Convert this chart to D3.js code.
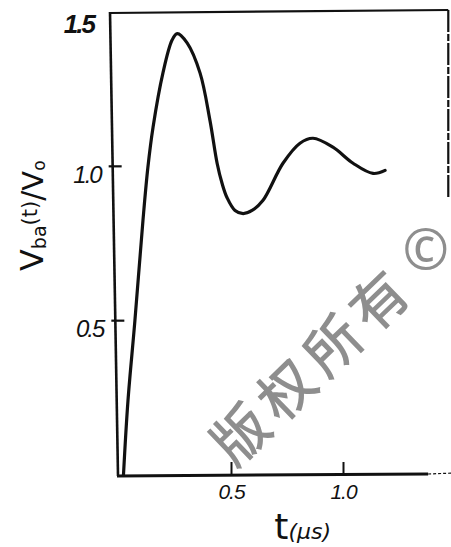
<!DOCTYPE html>
<html>
<head>
<meta charset="utf-8">
<script src="https://cdn.jsdelivr.net/npm/d3@7/dist/d3.min.js"></script>
<style>
  html, body { margin: 0; padding: 0; background: #fff; }
  svg { display: block; }
</style>
</head>
<body>
<script>
// Step response of the normalised voltage V_ba(t)/V_0 against time (µs)
const timeUs = [0.02, 0.04, 0.071, 0.107, 0.129, 0.152, 0.196, 0.237, 0.26, 0.304, 0.362, 0.406,
                0.438, 0.46, 0.482, 0.518, 0.554, 0.594, 0.643, 0.732, 0.808, 0.866, 0.955,
                1.045, 1.134, 1.188];
const voltageRatio = [0.0, 0.24, 0.5, 0.825, 0.997, 1.127, 1.302, 1.409, 1.43, 1.40, 1.302, 1.149,
                      1.01, 0.945, 0.899, 0.857, 0.847, 0.857, 0.89, 1.01, 1.075, 1.091, 1.062,
                      1.01, 0.977, 0.987];

const yTickValues = [0.5, 1.0, 1.5];
const yTickLabels = ["0.5", "1.0", "1.5"];
const xTickValues = [0.5, 1.0];
const xTickLabels = ["0.5", "1.0"];

const watermarkChars = ["版", "权", "所", "有"];
const watermarkMark = "©";

const W = 451, H = 547;
const svg = d3.select("body").append("svg").attr("width", W).attr("height", H);

const x = d3.scaleLinear().domain([0, 1.5]).range([119, 455]);
const y = d3.scaleLinear().domain([0, 1.5]).range([475, 12]);

// the hand-drawn vertical axis leans slightly to the left towards the top
const slant = v => x(0) - 1 - (v / 1.5) * 8;

const ink = "#111";

// frame: top edge and broken right edge
svg.append("line")
  .attr("x1", slant(1.5)).attr("y1", y(1.5) + 1)
  .attr("x2", x(1.47)).attr("y2", y(1.5) - 2)
  .attr("stroke", ink).attr("stroke-width", 2.2);
svg.append("line")
  .attr("x1", x(1.47)).attr("y1", y(1.5) - 2)
  .attr("x2", x(1.47)).attr("y2", y(0.9))
  .attr("stroke", ink).attr("stroke-width", 2.2)
  .attr("stroke-dasharray", "22,2,7,2");

// left axis line
svg.append("line")
  .attr("x1", slant(0)).attr("y1", y(0) + 1)
  .attr("x2", slant(1.5)).attr("y2", y(1.5))
  .attr("stroke", ink).attr("stroke-width", 2.6);

// bottom axis line: solid, then thinning to a dotted stroke
svg.append("line")
  .attr("x1", slant(0) - 1).attr("y1", y(0) + 1)
  .attr("x2", x(1.38)).attr("y2", y(0) - 1)
  .attr("stroke", ink).attr("stroke-width", 3);
svg.append("line")
  .attr("x1", x(1.38)).attr("y1", y(0) - 1)
  .attr("x2", x(1.5)).attr("y2", y(0) - 2)
  .attr("stroke", ink).attr("stroke-width", 1.2)
  .attr("stroke-dasharray", "3,2");

// y axis ticks and labels
const gy = svg.append("g")
  .call(d3.axisLeft(y)
    .tickValues(yTickValues)
    .tickFormat((d, i) => yTickLabels[i])
    .tickSizeInner(-9).tickSizeOuter(0).tickPadding(12));
gy.select(".domain").remove();
gy.selectAll(".tick").attr("transform", d => `translate(${slant(d)},${y(d)})`);
gy.selectAll(".tick line")
  .attr("x1", -4).attr("stroke", ink).attr("stroke-width", 2.2)
  .attr("opacity", d => d === 1.5 ? 0 : 1);
gy.selectAll(".tick text")
  .attr("x", d => d === 1.5 ? -16 : -12)
  .attr("y", d => d === 1.5 ? 13 : 9)
  .attr("fill", ink)
  .style("font-family", "'Liberation Sans', sans-serif")
  .style("font-style", "italic")
  .style("font-weight", d => d === 1.5 ? "bold" : "normal")
  .style("font-size", d => d === 1.5 ? "26px" : "24px")
  .style("letter-spacing", "-2px");

// x axis ticks and labels
const gx = svg.append("g").attr("transform", `translate(0,${y(0)})`)
  .call(d3.axisBottom(x)
    .tickValues(xTickValues)
    .tickFormat((d, i) => xTickLabels[i])
    .tickSizeInner(-13).tickSizeOuter(0).tickPadding(9));
gx.select(".domain").remove();
gx.selectAll(".tick line").attr("stroke", ink).attr("stroke-width", 2);
gx.selectAll(".tick text")
  .attr("fill", ink)
  .style("font-family", "'Liberation Sans', sans-serif")
  .style("font-style", "italic")
  .style("font-size", "21px")
  .style("letter-spacing", "-1px");

// response curve
const line = d3.line()
  .x((d, i) => x(timeUs[i]))
  .y(d => y(d))
  .curve(d3.curveCatmullRom.alpha(0.5));
svg.append("path")
  .datum(voltageRatio)
  .attr("d", line)
  .attr("fill", "none")
  .attr("stroke", ink)
  .attr("stroke-width", 3.2)
  .attr("stroke-linejoin", "round")
  .attr("stroke-linecap", "round");

// axis titles
const yTitle = svg.append("text")
  .attr("transform", `translate(43,${y(0.84)}) rotate(-90)`)
  .attr("text-anchor", "middle")
  .attr("fill", ink)
  .style("font-family", "'DejaVu Sans', sans-serif");
yTitle.append("tspan").style("font-size", "32px").text("V");
yTitle.append("tspan").style("font-size", "19px").attr("dy", 3).text("ba");
yTitle.append("tspan").style("font-size", "21px").attr("dy", -9).text("(t)");
yTitle.append("tspan").style("font-size", "30px").attr("dy", 6).text("/");
yTitle.append("tspan").style("font-size", "29px").text("V");
yTitle.append("tspan").style("font-size", "17px").attr("dy", 2).text("o");

const xTitle = svg.append("text")
  .attr("x", x(0.82)).attr("y", 539)
  .attr("text-anchor", "middle")
  .attr("fill", ink)
  .style("font-family", "'DejaVu Sans', sans-serif");
xTitle.append("tspan").style("font-size", "36px").text("t");
xTitle.append("tspan").style("font-size", "22px").style("font-style", "italic").text("(µs)");

// copyright watermark, laid along a diagonal
const wmAngle = -44, wmStep = 64;
const wmCx = 307, wmCy = 365;
const wm = svg.append("g")
  .attr("transform", `translate(${wmCx},${wmCy}) rotate(${wmAngle})`)
  .attr("fill", "#8e8e8e");
wm.selectAll("text.ch")
  .data(watermarkChars)
  .join("text")
  .attr("class", "ch")
  .attr("x", (d, i) => (i - 1.5) * wmStep)
  .attr("text-anchor", "middle")
  .attr("dominant-baseline", "central")
  .style("font-family", "'Noto Sans CJK SC', sans-serif")
  .style("font-weight", 500)
  .style("font-size", "56px")
  .text(d => d);
// the circled mark closes the diagonal at the right edge, kept upright
const rad = wmAngle * Math.PI / 180, markDist = 170;
svg.append("text")
  .attr("x", W - 2)
  .attr("y", wmCy + markDist * Math.sin(rad))
  .attr("text-anchor", "end")
  .attr("dominant-baseline", "central")
  .attr("fill", "#8e8e8e")
  .style("font-family", "'Noto Sans', sans-serif")
  .style("font-size", "56px")
  .text(watermarkMark);
</script>
</body>
</html>
